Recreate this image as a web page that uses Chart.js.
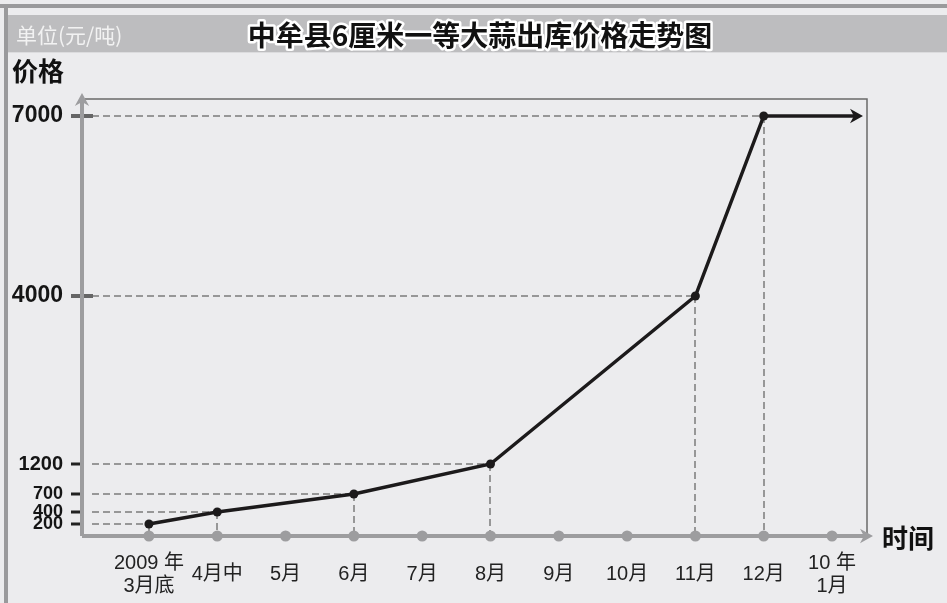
<!DOCTYPE html>
<html>
<head>
<meta charset="utf-8">
<script src="https://cdn.jsdelivr.net/npm/chart.js@4"></script>
<style>
  html, body { margin: 0; padding: 0; background: #ececee; }
  canvas { display: block; }
</style>
</head>
<body>
<canvas id="garlic" width="947" height="603"></canvas>
<script>
/* 中牟县大蒜出库价格走势图 */

const TITLE = '中牟县6厘米一等大蒜出库价格走势图';
const UNIT = '单位(元/吨)';
const Y_NAME = '价格';
const X_NAME = '时间';

const MONTHS = [
  ['2009 年', '3月底'], '4月中', '5月', '6月', '7月', '8月',
  '9月', '10月', '11月', '12月', ['10 年', '1月']
];
// price per month, null where no reading was given
const PRICES = [200, 400, null, 700, null, 1200, null, null, 4000, 7000, null];
const Y_TICKS = [200, 400, 700, 1200, 4000, 7000];
const BIG_TICKS = [4000, 7000];

const AXIS_GRAY = '#9d9d9f';
const DASH_GRAY = '#979797';
const LINE_BLACK = '#1c1a1b';
const CJK = '"Noto Sans CJK SC"';
const LATIN = '"Liberation Sans", "Noto Sans CJK SC"';

function pricePoints() {
  var pts = [];
  PRICES.forEach(function(v, i) { if (v !== null) pts.push({ x: i, y: v }); });
  return pts;
}

function arrowHead(ctx, x, y, dir, size, color) {
  ctx.save();
  ctx.fillStyle = color;
  ctx.translate(x, y);
  ctx.rotate(dir);
  ctx.beginPath();
  ctx.moveTo(0, 0);
  ctx.lineTo(-size, -size * 0.55);
  ctx.lineTo(-size * 0.7, 0);
  ctx.lineTo(-size, size * 0.55);
  ctx.closePath();
  ctx.fill();
  ctx.restore();
}

var framePlugin = {
  id: 'frame',
  beforeDraw: function(chart) {
    var ctx = chart.ctx, w = chart.width, h = chart.height;
    ctx.save();
    ctx.fillStyle = '#ececee';
    ctx.fillRect(0, 0, w, h);
    ctx.fillStyle = '#9a9a9c';
    ctx.fillRect(0, 4, w, 4);
    ctx.fillRect(4, 4, 4, h - 4);
    ctx.fillStyle = '#bdbdbf';
    ctx.fillRect(8, 15, w - 8, 37);
    ctx.fillStyle = '#dcdcde';
    ctx.fillRect(8, 52, w - 8, 1);

    ctx.textBaseline = 'middle';
    ctx.font = '21px ' + CJK;
    ctx.fillStyle = '#f2f2f2';
    ctx.textAlign = 'left';
    ctx.fillText(UNIT, 16, 35);

    ctx.font = 'bold 28px ' + CJK;
    ctx.textAlign = 'center';
    ctx.lineJoin = 'round';
    ctx.lineWidth = 5;
    ctx.strokeStyle = '#ffffff';
    ctx.strokeText(TITLE, 480, 35);
    ctx.fillStyle = '#111111';
    ctx.fillText(TITLE, 480, 35);

    ctx.font = 'bold 26px ' + CJK;
    ctx.textAlign = 'left';
    ctx.fillText(Y_NAME, 12, 71);
    ctx.fillText(X_NAME, 882, 538);
    ctx.restore();
  },
  beforeDatasetsDraw: function(chart) {
    var ctx = chart.ctx, a = chart.chartArea;
    var xs = chart.scales.x, ys = chart.scales.y;
    var x0 = a.left, y0 = a.bottom;
    ctx.save();

    // thin box round the plot
    ctx.strokeStyle = '#6a6a6a';
    ctx.lineWidth = 1.5;
    ctx.beginPath();
    ctx.moveTo(x0 + 3, a.top + 7);
    ctx.lineTo(a.right - 6, a.top + 7);
    ctx.lineTo(a.right - 6, y0);
    ctx.stroke();

    // dashed guides
    ctx.strokeStyle = DASH_GRAY;
    ctx.lineWidth = 2;
    ctx.setLineDash([7, 4]);
    pricePoints().forEach(function(p) {
      var px = Math.round(xs.getPixelForValue(p.x)), py = Math.round(ys.getPixelForValue(p.y));
      ctx.beginPath();
      ctx.moveTo(x0 + 10, py);
      ctx.lineTo(px, py);
      ctx.moveTo(px, py);
      ctx.lineTo(px, y0);
      ctx.stroke();
    });
    ctx.setLineDash([]);

    // y tick marks
    Y_TICKS.forEach(function(v) {
      var py = ys.getPixelForValue(v);
      if (BIG_TICKS.indexOf(v) >= 0) {
        ctx.fillStyle = '#666666';
        ctx.fillRect(x0 - 11, py - 2, 22, 4);
      } else {
        ctx.fillStyle = '#222222';
        ctx.fillRect(x0 - 11, py - 1.5, 9, 3);
      }
    });

    // axes with arrows
    ctx.strokeStyle = AXIS_GRAY;
    ctx.lineWidth = 4;
    ctx.beginPath();
    ctx.moveTo(x0, y0);
    ctx.lineTo(x0, a.top + 8);
    ctx.moveTo(x0, y0);
    ctx.lineTo(a.right - 8, y0);
    ctx.stroke();
    arrowHead(ctx, x0, a.top + 1, -Math.PI / 2, 13, AXIS_GRAY);
    arrowHead(ctx, a.right, y0, 0, 13, AXIS_GRAY);

    // month dots on the time axis
    ctx.fillStyle = AXIS_GRAY;
    MONTHS.forEach(function(m, i) {
      ctx.beginPath();
      ctx.arc(xs.getPixelForValue(i), y0, 5.5, 0, Math.PI * 2);
      ctx.fill();
    });

    // price stays flat after the last reading
    var pts = pricePoints(), last = pts[pts.length - 1];
    var lx = xs.getPixelForValue(last.x), ly = ys.getPixelForValue(last.y);
    var tip = a.right - 10;
    ctx.strokeStyle = LINE_BLACK;
    ctx.lineWidth = 3.5;
    ctx.beginPath();
    ctx.moveTo(lx, ly);
    ctx.lineTo(tip - 6, ly);
    ctx.stroke();
    arrowHead(ctx, tip, ly, 0, 13, LINE_BLACK);
    ctx.restore();
  }
};

new Chart(document.getElementById('garlic'), {
  type: 'line',
  data: {
    datasets: [{
      data: pricePoints(),
      borderColor: LINE_BLACK,
      borderWidth: 3.5,
      pointRadius: 4.5,
      pointBackgroundColor: LINE_BLACK,
      pointBorderWidth: 0,
      tension: 0
    }]
  },
  options: {
    responsive: false,
    animation: false,
    layout: { padding: { left: 0, top: 92, right: 74, bottom: 0 } },
    plugins: { legend: { display: false }, tooltip: { enabled: false } },
    scales: {
      x: {
        type: 'linear',
        min: -0.98, max: 10.6,
        grid: { display: false, drawTicks: false },
        border: { display: false },
        afterBuildTicks: function(axis) {
          axis.ticks = MONTHS.map(function(m, i) { return { value: i }; });
        },
        afterFit: function(axis) { axis.height = 67; },
        ticks: {
          maxRotation: 0, autoSkip: false,
          padding: 27, crossAlign: 'center',
          color: '#222222',
          font: { family: LATIN, size: 20, lineHeight: 1.15 },
          callback: function(v) { return MONTHS[v]; }
        }
      },
      y: {
        min: 0, max: 7400,
        grid: { display: false, drawTicks: false },
        border: { display: false },
        afterBuildTicks: function(axis) {
          axis.ticks = Y_TICKS.map(function(v) { return { value: v }; });
        },
        afterFit: function(axis) { axis.width = 82; },
        ticks: {
          padding: 19,
          color: '#151515',
          font: function(c) {
            var v = c.tick ? c.tick.value : 0;
            var size = BIG_TICKS.indexOf(v) >= 0 ? 23 : (v === 1200 ? 20 : 18);
            return { family: LATIN, size: size, weight: 'bold' };
          },
          callback: function(v) { return String(v); }
        }
      }
    }
  },
  plugins: [framePlugin]
});
</script>
</body>
</html>
